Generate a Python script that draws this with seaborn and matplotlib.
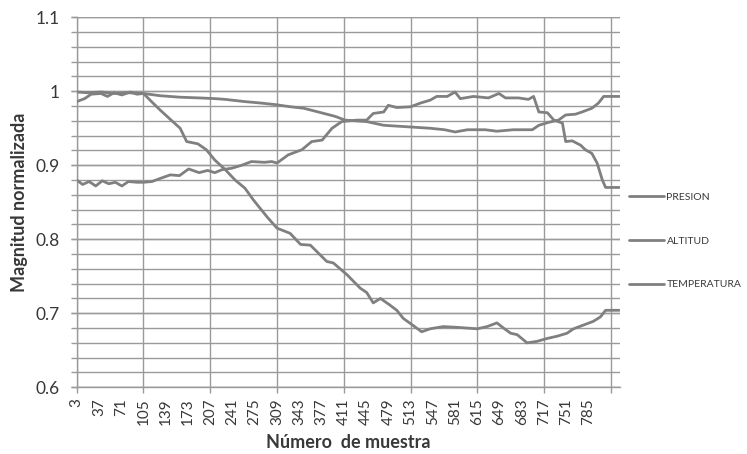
import matplotlib
matplotlib.use("Agg")
import matplotlib.pyplot as plt
import seaborn as sns
import pandas as pd
import numpy as np

# ---- data ----
presion_x = [3, 20, 40, 60, 80, 105, 130, 160, 190, 215,
             230, 260, 285, 306, 330, 350, 372, 398, 413, 446,
             472, 508, 543, 565, 581, 600, 627, 645, 670, 699,
             709, 724, 739, 750, 765, 775, 790, 800, 808, 832]
presion_y = [0.999, 0.998, 0.999, 0.997, 0.998, 0.997, 0.994, 0.992, 0.991, 0.990,
             0.989, 0.986, 0.984, 0.982, 0.979, 0.977, 0.972, 0.966, 0.961, 0.959,
             0.954, 0.952, 0.950, 0.948, 0.945, 0.948, 0.948, 0.946, 0.948, 0.948,
             0.954, 0.958, 0.961, 0.968, 0.969, 0.972, 0.977, 0.984, 0.993, 0.993]

altitud_x = [3, 12, 22, 32, 42, 52, 62, 72, 82, 95,
             105, 118, 130, 146, 160, 174, 190, 203, 214, 225,
             240, 255, 270, 290, 301, 309, 326, 347, 362, 378,
             393, 408, 431, 446, 456, 472, 479, 492, 513, 528,
             543, 553, 569, 581, 589, 609, 632, 648, 658, 678,
             693, 701, 709, 722, 732, 745, 750, 760, 773, 780,
             790, 798, 806, 811, 832]
altitud_y = [0.880, 0.874, 0.878, 0.872, 0.879, 0.875, 0.877, 0.872, 0.878, 0.877,
             0.877, 0.878, 0.882, 0.887, 0.886, 0.895, 0.890, 0.893, 0.890, 0.894,
             0.896, 0.900, 0.905, 0.904, 0.905, 0.903, 0.914, 0.921, 0.932, 0.934,
             0.950, 0.959, 0.961, 0.961, 0.970, 0.972, 0.981, 0.978, 0.979, 0.984,
             0.988, 0.993, 0.993, 0.999, 0.990, 0.993, 0.991, 0.997, 0.991, 0.991,
             0.989, 0.993, 0.972, 0.971, 0.961, 0.957, 0.932, 0.933, 0.927, 0.921,
             0.916, 0.903, 0.880, 0.870, 0.870]

temperatura_x = [3, 15, 25, 40, 50, 60, 72, 85, 95, 105,
                 115, 130, 146, 161, 171, 188, 201, 214, 230, 245,
                 260, 273, 294, 309, 329, 345, 360, 385, 395, 416,
                 436, 446, 456, 467, 480, 492, 502, 513, 530,
                 543, 563, 584, 599, 615, 630, 645, 655, 666, 676,
                 691, 706, 722, 737, 752, 762, 777, 792, 803, 811,
                 832]
temperatura_y = [0.986, 0.990, 0.996, 0.997, 0.993, 0.998, 0.995, 0.999, 0.996, 0.997,
                 0.988, 0.975, 0.962, 0.950, 0.932, 0.929, 0.921, 0.907, 0.894, 0.880,
                 0.869, 0.853, 0.830, 0.815, 0.808, 0.793, 0.792, 0.770, 0.768, 0.752,
                 0.734, 0.728, 0.714, 0.720, 0.712, 0.704, 0.693, 0.686, 0.675,
                 0.679, 0.682, 0.681, 0.680, 0.679, 0.682, 0.687, 0.680, 0.673, 0.671,
                 0.660, 0.662, 0.666, 0.669, 0.673, 0.679, 0.684, 0.689, 0.695, 0.704,
                 0.704]

series_names = ["PRESION", "ALTITUD", "TEMPERATURA"]
x_tick_labels = list(range(3, 800, 34))       # 3, 37, ..., 785
x_grid_positions = list(range(3, 834, 102))   # 3, 105, ..., 819
y_major = [0.6, 0.7, 0.8, 0.9, 1.0, 1.1]
y_major_labels = ["0.6", "0.7", "0.8", "0.9", "1", "1.1"]
y_minor = list(np.round(np.arange(0.6, 1.1001, 0.02), 2))

# ---- styling ----
sns.set_theme(style="white")
plt.rcParams["font.family"] = ["Lato", "DejaVu Sans"]

LINE = "#808080"
GRID = "#9a9a9a"
TEXT = "#383838"

fig = plt.figure(figsize=(7.47, 4.54), dpi=100)
ax = fig.add_axes([0.1027, 0.147, 0.7273, 0.815])

df = pd.concat([
    pd.DataFrame({"x": presion_x, "y": presion_y, "s": series_names[0]}),
    pd.DataFrame({"x": altitud_x, "y": altitud_y, "s": series_names[1]}),
    pd.DataFrame({"x": temperatura_x, "y": temperatura_y, "s": series_names[2]}),
])

sns.lineplot(data=df, x="x", y="y", hue="s", hue_order=series_names,
             palette=[LINE, LINE, LINE], linewidth=2.0, ax=ax, legend=True,
             zorder=3)

ax.set_xlim(3, 833)
ax.set_ylim(0.6, 1.1)

# x ticks: labels every 34, gridlines / tick marks every 102
ax.xaxis.remove_overlapping_locs = False
ax.set_xticks(x_tick_labels, labels=[str(v) for v in x_tick_labels],
              rotation=90)
ax.set_xticks(x_grid_positions, minor=True)
ax.tick_params(axis="x", which="major", length=0, pad=7.7,
               labelsize=11, colors=TEXT)
ax.tick_params(axis="x", which="minor", length=4, width=1, color=GRID,
               direction="out", bottom=True)
ax.grid(axis="x", which="minor", color=GRID, linewidth=1.0)
ax.grid(axis="x", which="major", visible=False)

# y ticks
ax.set_yticks(y_major, labels=y_major_labels)
ax.set_yticks(y_minor, minor=True)
ax.yaxis.remove_overlapping_locs = False
ax.tick_params(axis="y", which="both", length=4, width=1, color=GRID,
               direction="out", left=True)
ax.tick_params(axis="y", which="major", pad=8.4, labelsize=12.5,
               labelcolor=TEXT)
ax.grid(axis="y", which="both", color=GRID, linewidth=1.0)

for s in ["top", "right"]:
    ax.spines[s].set_visible(False)
for s in ["left", "bottom"]:
    ax.spines[s].set_color(GRID)
    ax.spines[s].set_linewidth(1.0)

ax.set_xlabel("Número  de muestra", fontsize=13, fontweight="bold",
              color=TEXT, labelpad=7)
ax.set_ylabel("Magnitud normalizada", fontsize=13, fontweight="bold",
              color=TEXT, labelpad=5)

handles, labels = ax.get_legend_handles_labels()
ax.legend(handles, labels, loc="center left",
          bbox_to_anchor=(0.842, 0.469), bbox_transform=fig.transFigure,
          frameon=False, fontsize=7.5, labelspacing=3.3, handlelength=3.4,
          handletextpad=0.2, borderpad=0, borderaxespad=0,
          labelcolor=TEXT)

fig.savefig("out.png", dpi=100)
